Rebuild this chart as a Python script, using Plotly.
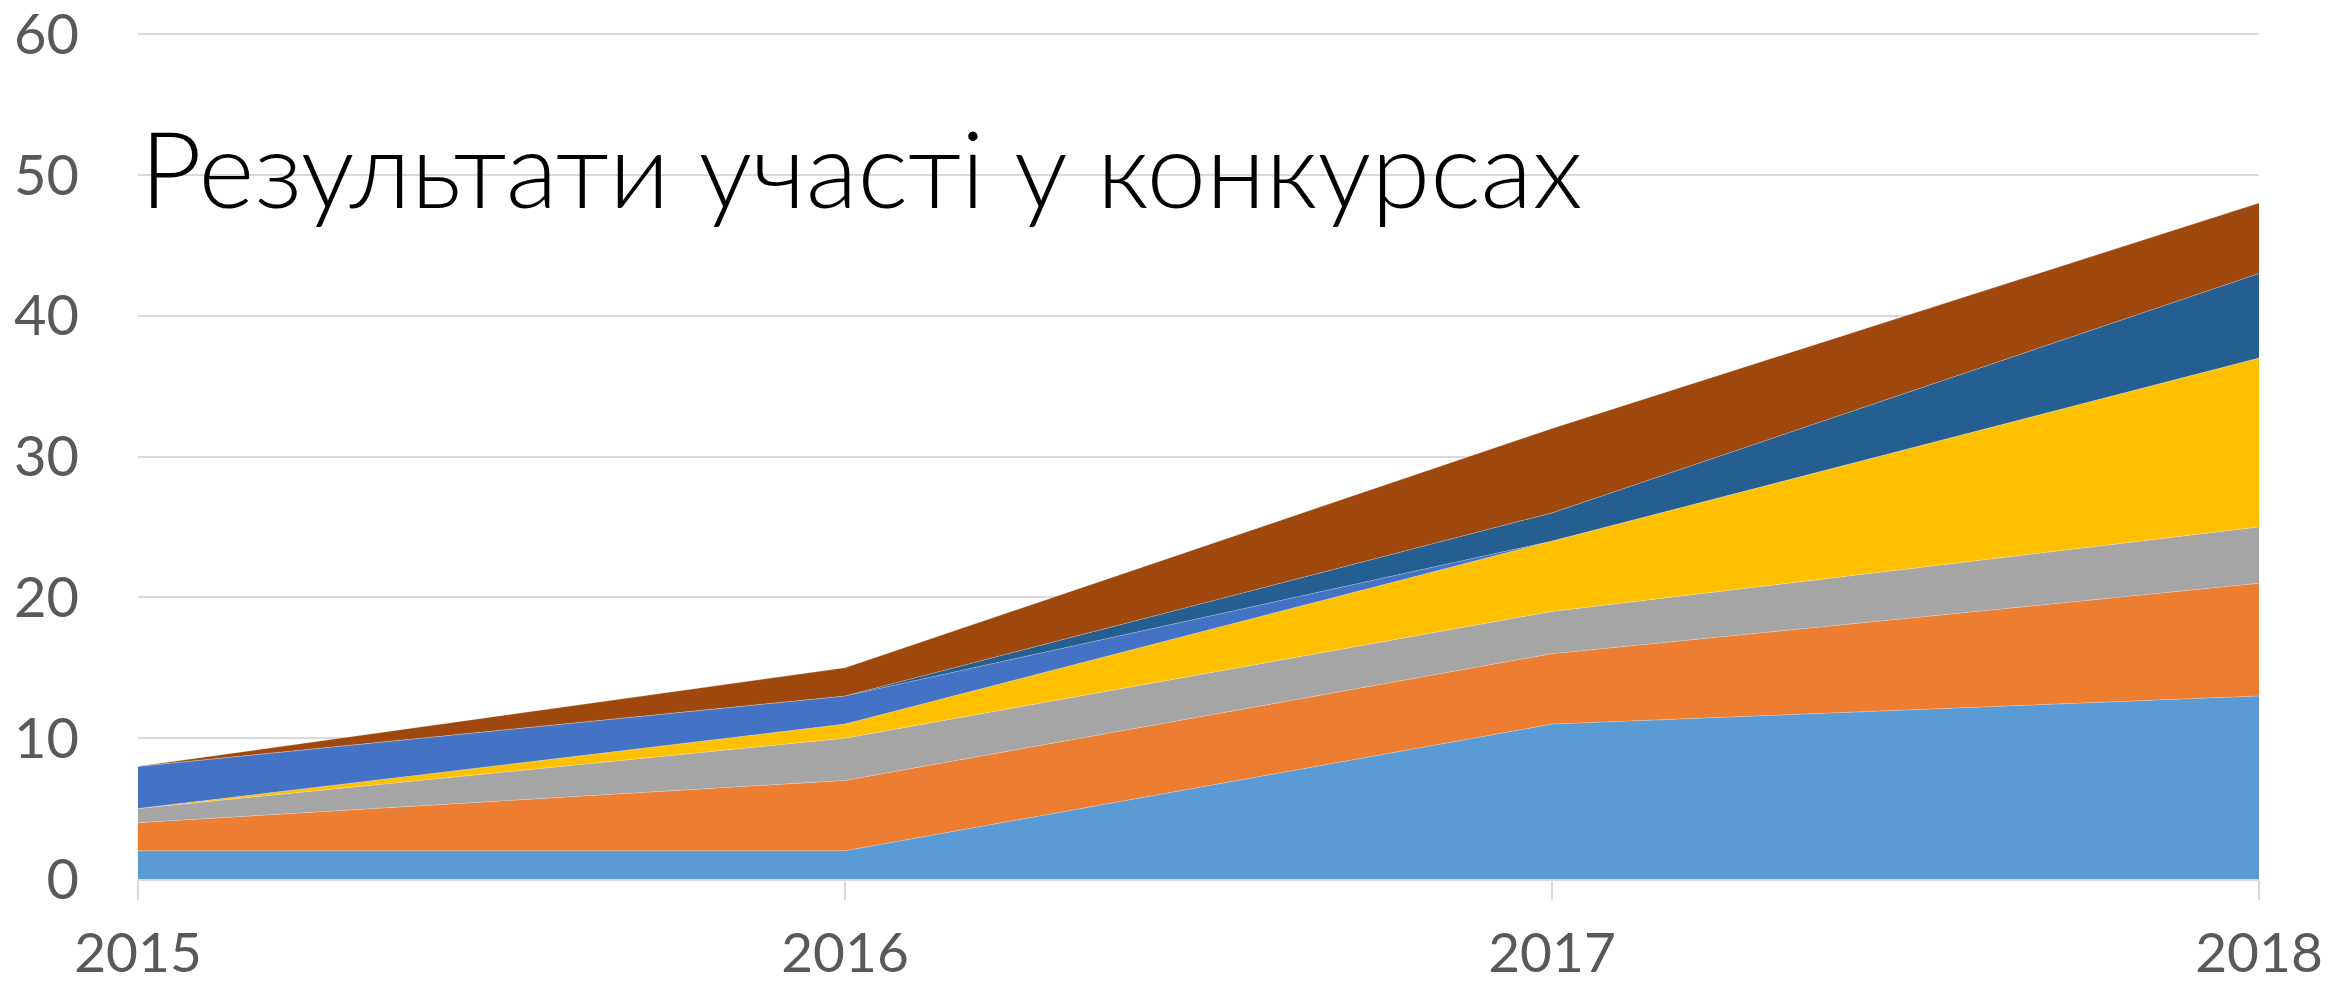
import plotly.graph_objects as go

years = [2015, 2016, 2017, 2018]
s1 = [2, 2, 11, 13]
s2 = [2, 5, 5, 8]
s3 = [1, 3, 3, 4]
s4 = [0, 1, 5, 12]
s5 = [3, 2, 0, 0]
s6 = [0, 0, 2, 6]
s7 = [0, 2, 6, 5]
series = [s1, s2, s3, s4, s5, s6, s7]
names = ["Ряд 1", "Ряд 2", "Ряд 3", "Ряд 4", "Ряд 5", "Ряд 6", "Ряд 7"]
colors = ["#5B9BD5", "#ED7D31", "#A5A5A5", "#FFC000", "#4472C4", "#255E91", "#9E480E"]
y_ticks = [0, 10, 20, 30, 40, 50, 60]
title_text = "Результати участі у конкурсах"

fig = go.Figure()
for name, vals, c in zip(names, series, colors):
    fig.add_trace(go.Scatter(
        x=years, y=vals, name=name, mode="lines", stackgroup="one",
        line=dict(width=0.5, color="rgba(255,255,255,0.5)"), fillcolor=c,
        hoverinfo="x+y+name",
    ))

fig.add_annotation(
    text=title_text, xref="paper", yref="paper", x=0.0, y=0.842,
    xanchor="left", yanchor="middle", showarrow=False,
    font=dict(family="Lato", size=107, color="#000000", weight=300),
)

fig.update_layout(
    width=2343, height=979,
    margin=dict(l=130, r=92, t=25, b=108, autoexpand=False),
    paper_bgcolor="white", plot_bgcolor="white",
    showlegend=False,
    font=dict(family="Lato", color="#595959"),
    xaxis=dict(
        range=[2015, 2018], tickvals=years, ticktext=[str(y) for y in years],
        automargin=False, ticklabeloverflow="allow",
        showgrid=False, zeroline=False, showline=True, linecolor="#D9D9D9", linewidth=2,
        ticks="outside", ticklen=19, tickcolor="#D9D9D9", tickwidth=2,
        ticklabelstandoff=6,
        tickfont=dict(size=55, color="#595959"),
    ),
    yaxis=dict(
        range=[0, 60.08], tickvals=y_ticks, showgrid=True, gridcolor="#D9D9D9", gridwidth=2,
        automargin=False, ticklabeloverflow="allow",
        zeroline=False, showline=False, ticks="", ticklen=0,
        ticklabelstandoff=58,
        tickfont=dict(size=56, color="#595959"),
    ),
)

fig.write_html("out.html")
